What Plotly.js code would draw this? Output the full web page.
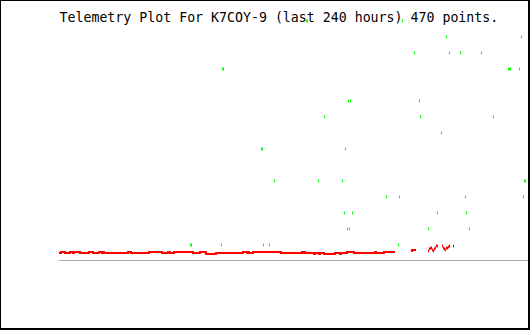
<!DOCTYPE html>
<html>
<head>
<meta charset="utf-8">
<script src="https://cdn.plot.ly/plotly-3.0.1.min.js"></script>
<style>
  html, body { margin: 0; padding: 0; background: #fff; }
  #wrap { position: relative; width: 530px; height: 330px; }
  #chart { width: 530px; height: 330px; }
  #frame { position: absolute; left: 0; top: 0; width: 530px; height: 330px; box-sizing: border-box;
           border-top: 1px solid #000; border-left: 1px solid #000; border-right: 2px solid #000; border-bottom: 2px solid #000;
           pointer-events: none; }
</style>
</head>
<body>
<div id="wrap"><div id="chart"></div><div id="frame"></div></div>
<script>
// Hours (0 = start of the 240 hour window)
// Red channel: stepped trace, value changes at these hours
var redStepHours = [0, 1.02, 3.07, 5.63, 7.16, 7.68, 10.75, 15.35, 17.40, 20.47, 22.00, 22.52, 23.03, 35.31, 36.85,
  46.06, 52.71, 55.78, 56.80, 58.85, 68.57, 72.15, 75.22, 80.34, 94.16, 96.20, 96.72, 97.23, 99.28, 113.60,
  124.35, 124.86, 125.37, 125.88, 130.49, 131.00, 133.05, 133.56, 135.61, 141.24, 143.80, 144.31, 147.38,
  150.96, 161.71, 162.22, 166.31, 171.94];
var redStepValues = [0.5, 0.5625, 0.5, 0.5625, 0.5, 0.5625, 0.5, 0.5625, 0.5, 0.5625, 0.5, 0.5625, 0.5, 0.5625, 0.5,
  0.5625, 0.5, 0.5625, 0.5, 0.5625, 0.5, 0.5625, 0.4375, 0.5, 0.5625, 0.5, 0.5625, 0.5, 0.5625, 0.5,
  0.5625, 0.5, 0.5625, 0.5, 0.4375, 0.5, 0.4375, 0.5, 0.4375, 0.5, 0.4375, 0.5, 0.5625,
  0.5, 0.5625, 0.5, 0.5625, 0.5625];
var redSeg2Hours = [180.13, 180.64, 182.69];
var redSeg2Values = [0.625, 0.6875, 0.6875];
// Red channel: scattered points at the end
var redDotHours = [189.08, 189.60, 190.11, 190.62, 191.13, 191.64, 192.15, 192.67, 193.18, 193.69,
  196.25, 196.76, 197.27, 197.78, 198.30, 198.81, 199.32, 199.83, 201.88];
var redDotValues = [0.625, 0.75, 0.8125, 0.8125, 0.6875, 0.625, 0.75, 0.8125, 0.9375, 0.9375,
  0.9375, 0.8125, 0.75, 0.6875, 0.8125, 0.8125, 0.875, 0.9375, 0.9375];
// Green channel: points
var greenHours = [126.66, 127.17, 175.78,
  198.30, 236.67,
  181.92, 199.83, 205.46, 216.21,
  83.67, 84.18, 230.03, 230.54, 231.05, 235.65,
  148.15, 149.17, 184.48,
  135.86, 184.99, 222.35,
  195.74,
  103.62, 104.14, 146.61,
  110.28, 132.79, 145.08, 238.21, 238.72,
  167.59, 174.24, 208.02, 237.70,
  146.10, 150.19, 193.69, 208.53,
  147.63, 148.66, 189.08, 210.07,
  67.29, 67.80, 83.16, 104.65, 107.72, 173.74];
var greenValues = [15, 15, 15,
  14, 14,
  13, 13, 13, 13,
  12, 12, 12, 12, 12, 12,
  10, 10, 10,
  9, 9, 9,
  8,
  7, 7, 7,
  5, 5, 5, 5, 5,
  4, 4, 4, 4,
  3, 3, 3, 3,
  2, 2, 2, 2,
  1, 1, 1, 1, 1, 1];
var titleText = "Telemetry Plot For K7COY-9 (last 240 hours) 470 points.";

var redLineX = redStepHours.concat([null], redSeg2Hours);
var redLineY = redStepValues.concat([null], redSeg2Values);

var traces = [
  { x: greenHours, y: greenValues, type: 'scatter', mode: 'markers', hoverinfo: 'skip',
    marker: { symbol: 'line-ns', size: 2, color: '#00ff00', line: { color: '#00ff00', width: 1 } } },
  { x: redLineX, y: redLineY, type: 'scatter', mode: 'lines', connectgaps: false, hoverinfo: 'skip',
    line: { color: '#ff0000', width: 2, shape: 'hv' } },
  { x: redDotHours, y: redDotValues, type: 'scatter', mode: 'markers', hoverinfo: 'skip',
    marker: { symbol: 'line-ns', size: 2, color: '#ff0000', line: { color: '#ff0000', width: 1 } } }
];

var layout = {
  width: 530, height: 330,
  margin: { l: 59, r: 2, t: 5, b: 69, pad: 0 },
  paper_bgcolor: '#ffffff', plot_bgcolor: '#ffffff',
  showlegend: false,
  title: { text: titleText, x: 59.5 / 530, xanchor: 'left', xref: 'container',
           y: 1 - 17 / 330, yanchor: 'middle', yref: 'container',
           font: { family: 'DejaVu Sans Mono', size: 13.25, color: '#000000' } },
  xaxis: { range: [0, 240], visible: false, showgrid: false, zeroline: false, fixedrange: true },
  yaxis: { range: [0, 16], visible: false, showgrid: false, zeroline: false, fixedrange: true },
  shapes: [
    { type: 'line', xref: 'paper', yref: 'y', x0: 0, x1: 1, y0: 0, y1: 0, layer: 'below',
      line: { color: '#aaaaaa', width: 2 } }
  ]
};

Plotly.newPlot('chart', traces, layout, { staticPlot: true, displayModeBar: false });
</script>
</body>
</html>
